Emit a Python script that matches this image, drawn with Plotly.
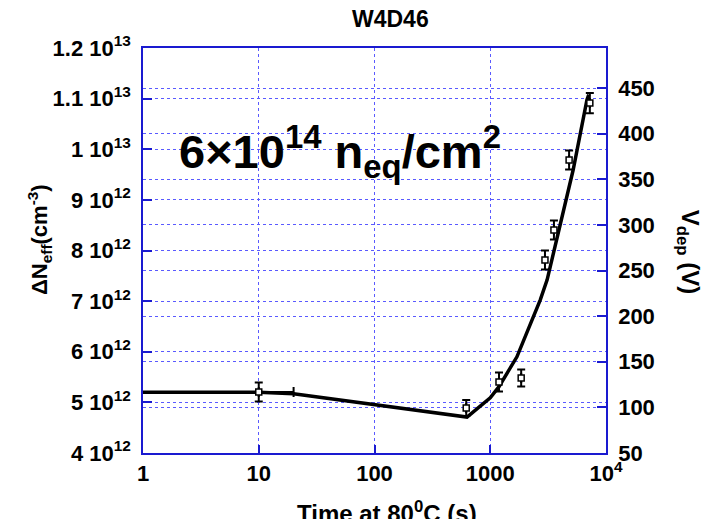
import plotly.graph_objects as go

# ---- data ----
fit_time = [1, 10, 20, 100, 630, 1000, 1190, 1700, 2700, 3100, 5200, 6850, 7100]
fit_neff = [5.2e12, 5.2e12, 5.17e12, 4.95e12, 4.71e12, 5.09e12, 5.31e12, 5.90e12,
            7.02e12, 7.42e12, 9.59e12, 10.98e12, 11.08e12]

meas_time = [10, 620, 1190, 1850, 2970, 3550, 4800, 7250]
meas_vdep = [116.8, 99.3, 127.8, 132.2, 261.5, 294.4, 371.1, 433.6]
meas_verr = [10.4, 8.8, 10.4, 9.3, 10.4, 10.4, 10.4, 11.0]
meas_terr_plus = [10, 0, 0, 0, 0, 0, 0, 0]

x_tickvals = [1, 10, 100, 1000, 10000]
x_ticktext = ["1", "10", "100", "1000", "10<sup>4</sup>"]
y_tickvals = [4e12, 5e12, 6e12, 7e12, 8e12, 9e12, 1e13, 1.1e13, 1.2e13]
y_ticktext = ["4 10<sup>12</sup>", "5 10<sup>12</sup>", "6 10<sup>12</sup>", "7 10<sup>12</sup>",
              "8 10<sup>12</sup>", "9 10<sup>12</sup>", "1 10<sup>13</sup>", "1.1 10<sup>13</sup>",
              "1.2 10<sup>13</sup>"]
y2_tickvals = [50, 100, 150, 200, 250, 300, 350, 400, 450]

FONT = "Liberation Sans, Arial, sans-serif"
AX = "#1a1ad0"
GRID = "#5a5aff"

fig = go.Figure()
fig.add_trace(go.Scatter(x=fit_time, y=fit_neff, mode="lines",
                         line=dict(color="black", width=3.5), yaxis="y", showlegend=False))
fig.add_trace(go.Scatter(x=meas_time, y=meas_vdep, mode="markers", yaxis="y2",
                         marker=dict(symbol="square", size=6, color="white",
                                     line=dict(color="black", width=1.5)),
                         error_y=dict(type="data", array=meas_verr, color="black",
                                      thickness=2, width=4),
                         error_x=dict(type="data", array=meas_terr_plus, arrayminus=[0]*8,
                                      color="black", thickness=2, width=5),
                         showlegend=False))

tickfont = dict(family=FONT, size=22, color="black", weight="bold")

fig.update_layout(
    width=707, height=519,
    margin=dict(l=143, r=101, t=48, b=66),
    paper_bgcolor="white", plot_bgcolor="white",
    xaxis=dict(type="log", range=[0, 4], tickvals=x_tickvals, ticktext=x_ticktext,
               showline=True, linecolor=AX, linewidth=1.5, mirror=True,
               ticks="inside", ticklen=8, tickcolor=AX, tickwidth=1.5,
               showgrid=True, gridcolor=GRID, griddash="dot", gridwidth=1,
               tickfont=tickfont, zeroline=False),
    yaxis=dict(range=[4e12, 1.2e13], tickvals=y_tickvals, ticktext=y_ticktext,
               showline=True, linecolor=AX, linewidth=1.5,
               ticks="inside", ticklen=9, tickcolor=AX, tickwidth=1.5,
               showgrid=True, gridcolor=GRID, griddash="dot", gridwidth=1,
               tickfont=tickfont, zeroline=False, ticklabelstandoff=6),
    yaxis2=dict(range=[50, 494], tickvals=y2_tickvals, overlaying="y", side="right",
                showline=True, linecolor=AX, linewidth=1.5,
                ticks="inside", ticklen=9, tickcolor=AX, tickwidth=1.5,
                showgrid=True, gridcolor=GRID, griddash="dot", gridwidth=1,
                tickfont=tickfont, zeroline=False, ticklabelstandoff=6),
)

ann_font = dict(family=FONT, color="black", weight="bold")
fig.add_annotation(text="W4D46", xref="paper", yref="paper", x=0.535, y=1.072,
                   xanchor="center", yanchor="middle", showarrow=False,
                   font=dict(size=23, **ann_font))
fig.add_annotation(text="ΔN<sub>eff</sub>(cm<sup>-3</sup>)", xref="paper", yref="paper",
                   x=-0.225, y=0.528, textangle=-90, xanchor="center", yanchor="middle",
                   showarrow=False, font=dict(size=22, **ann_font))
fig.add_annotation(text="V<sub>dep</sub> (V)", xref="paper", yref="paper",
                   x=1.178, y=0.496, textangle=90, xanchor="center", yanchor="middle",
                   showarrow=False, font=dict(size=24, **ann_font))
fig.add_annotation(text="Time at 80<sup>0</sup>C (s)", xref="paper", yref="paper",
                   x=0.528, y=-0.104, xanchor="center", yanchor="top",
                   showarrow=False, font=dict(size=24, **ann_font))
fig.add_annotation(text="6×10<sup>14</sup> n<sub>eq</sub>/cm<sup>2</sup>", xref="paper", yref="paper",
                   x=0.073, y=0.745, xanchor="left", yanchor="middle",
                   showarrow=False, font=dict(size=47, **ann_font))

fig.write_html("out.html")
